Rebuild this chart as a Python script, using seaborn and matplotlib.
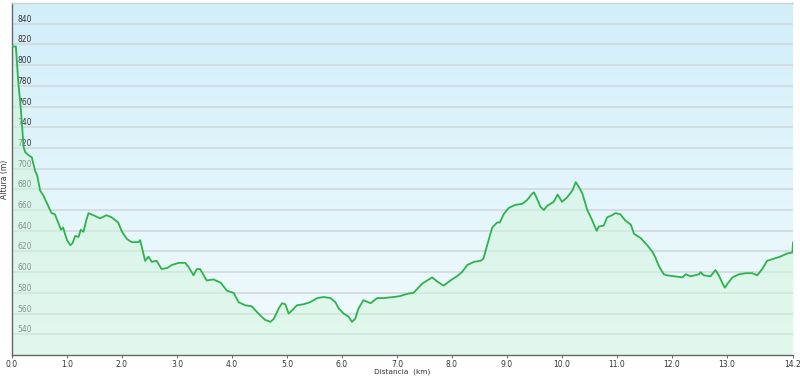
import numpy as np
import pandas as pd
import matplotlib
matplotlib.use("Agg")
import matplotlib.pyplot as plt
import seaborn as sns

dist = [0.00, 0.07, 0.115, 0.15, 0.18, 0.21, 0.24, 0.30, 0.36, 0.42, 0.46, 0.51, 0.57, 0.72, 0.78,
        0.89, 0.93, 1.00, 1.06, 1.10, 1.15, 1.21, 1.25, 1.30, 1.35, 1.39, 1.48, 1.60, 1.72, 1.81,
        1.93, 2.00, 2.09, 2.18, 2.30, 2.33, 2.42, 2.48, 2.54, 2.63, 2.72, 2.82, 2.91, 3.03, 3.15,
        3.21, 3.30, 3.36, 3.42, 3.54, 3.66, 3.79, 3.91, 4.03, 4.12, 4.24, 4.36, 4.48, 4.60, 4.70,
        4.76, 4.85, 4.91, 4.97, 5.03, 5.09, 5.18, 5.30, 5.42, 5.55, 5.67, 5.79, 5.88, 5.94, 6.03,
        6.12, 6.18, 6.24, 6.30, 6.39, 6.52, 6.64, 6.76, 6.94, 7.06, 7.18, 7.30, 7.46, 7.55, 7.64,
        7.73, 7.85, 7.97, 8.09, 8.18, 8.28, 8.40, 8.52, 8.57, 8.64, 8.73, 8.82, 8.87, 8.94, 9.03,
        9.15, 9.28, 9.37, 9.46, 9.49, 9.52, 9.61, 9.67, 9.73, 9.85, 9.92, 10.00, 10.09, 10.19, 10.25,
        10.31, 10.37, 10.46, 10.55, 10.63, 10.67, 10.76, 10.82, 10.91, 10.97, 11.06, 11.15, 11.25,
        11.31, 11.43, 11.55, 11.64, 11.70, 11.76, 11.85, 11.91, 12.04, 12.19, 12.25, 12.34, 12.49,
        12.52, 12.58, 12.70, 12.79, 12.85, 12.92, 12.96, 13.01, 13.10, 13.22, 13.34, 13.46, 13.55,
        13.64, 13.73, 13.85, 13.97, 14.09, 14.19, 14.20]

elev = [818, 818, 783, 764, 744, 721, 716, 713, 711, 698, 693, 679, 674, 657, 656,
        641, 643, 631, 626, 628, 635, 634, 641, 639, 650, 657, 655, 652, 655, 653,
        648, 639, 632, 629, 629, 631, 611, 615, 610, 611, 603, 604, 607, 609, 609,
        605, 597, 603, 603, 592, 593, 590, 582, 580, 571, 568, 567, 560, 554, 552,
        555, 565, 570, 569, 560, 563, 568, 569, 571, 575, 576, 575, 571, 565, 560,
        557, 552, 555, 565, 573, 570, 575, 575, 576, 577, 579, 580, 589, 592, 595,
        591, 587, 592, 596, 600, 607, 610, 611, 613, 626, 643, 648, 648, 656, 662,
        665, 666, 670, 676, 677, 674, 663, 660, 664, 668, 675, 668, 672, 679, 687,
        682, 676, 660, 650, 640, 644, 645, 653, 655, 657, 656, 650, 646,
        637, 633, 626, 620, 614, 606, 598, 597, 596, 595, 598, 596, 598,
        600, 597, 596, 602, 597, 589, 585, 589, 595, 598, 599, 599, 597,
        603, 611, 613, 615, 618, 619, 629]

x_ticks = [0, 1, 2, 3, 4, 5, 6, 7, 8, 9, 10, 11, 12, 13, 14.2]
x_tick_labels = ["0.0", "1.0", "2.0", "3.0", "4.0", "5.0", "6.0", "7.0", "8.0", "9.0",
                 "10.0", "11.0", "12.0", "13.0", "14.2"]
y_ticks = list(range(540, 841, 20))

df = pd.DataFrame({"Distancia": dist, "Altura": elev})

sns.set_theme(style="white")
plt.rcParams['font.family'] = ['DejaVu Sans']

fig = plt.figure(figsize=(8.0, 3.77), dpi=100)
ax = fig.add_axes([12/800, 22/377, 781/800, 352/377])

# gradient background
grad = np.linspace(0, 1, 256).reshape(-1, 1)
top = np.array([0.82, 0.935, 0.98])
bot = np.array([0.95, 0.985, 0.99])
img = top[None, None, :] * (1 - grad[:, :, None]) + bot[None, None, :] * grad[:, :, None]
ax.imshow(img, extent=[0, 1, 0, 1], transform=ax.transAxes, aspect="auto", zorder=0)

ax.set_xlim(0, 14.2)
ax.set_ylim(520, 860)

for yv in y_ticks:
    ax.axhline(yv, color="#d0d9dc", lw=1.2, zorder=1)

ax.fill_between(df["Distancia"], df["Altura"], 520, color="#d2f5dc", alpha=0.5, lw=0, zorder=2)
sns.lineplot(data=df, x="Distancia", y="Altura", ax=ax, color="#2db34b", lw=1.3, zorder=3)

ax.set_xticks(x_ticks)
ax.set_xticklabels(x_tick_labels)
ax.set_yticks(y_ticks)
ax.set_yticklabels([str(v) for v in y_ticks])

ax.tick_params(axis="x", direction="out", length=2.5, width=0.8, color="#777777",
               labelsize=5.5, labelcolor="#333333", pad=1, bottom=True)
ax.tick_params(axis="y", length=0, labelsize=5.5, labelcolor="#333333", pad=-4, left=False)
for lab in ax.get_yticklabels():
    lab.set_horizontalalignment("left")
    lab.set_verticalalignment("bottom")

ax.set_xlabel("Distancia  (km)", fontsize=5.3, color="#333333", va="center")
ax.xaxis.set_label_coords(0.5, -0.047)
ax.set_ylabel("Altura (m)", fontsize=5.5, color="#333333", labelpad=2)

for side in ["left", "bottom"]:
    ax.spines[side].set_color("#666666")
    ax.spines[side].set_linewidth(1.0)
ax.spines["top"].set_color("#d0d0d0")
ax.spines["top"].set_linewidth(1.0)
ax.spines["right"].set_visible(False)

fig.savefig("out.png", dpi=100)
